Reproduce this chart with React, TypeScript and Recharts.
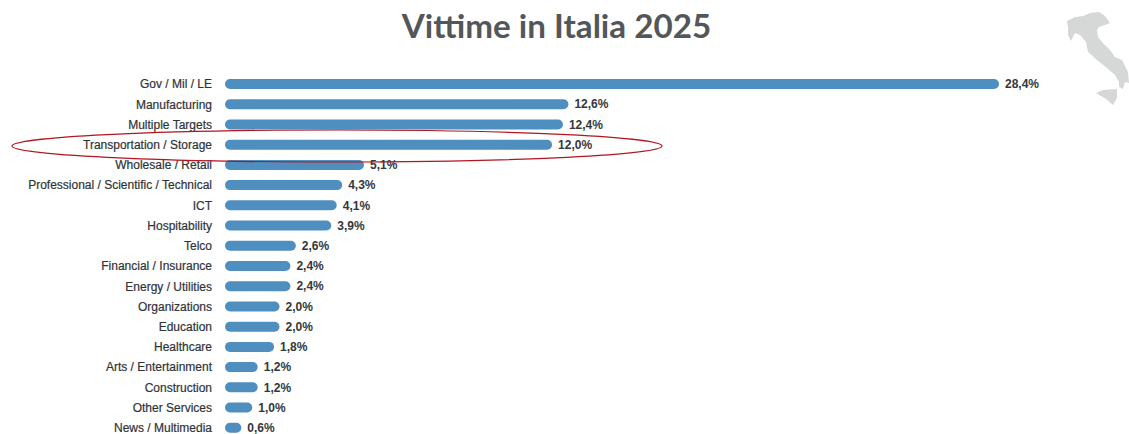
import React from "react";
import { BarChart, Bar, XAxis, YAxis, LabelList } from "recharts";

const sectors = [
  "Gov / Mil / LE",
  "Manufacturing",
  "Multiple Targets",
  "Transportation / Storage",
  "Wholesale / Retail",
  "Professional / Scientific / Technical",
  "ICT",
  "Hospitability",
  "Telco",
  "Financial / Insurance",
  "Energy / Utilities",
  "Organizations",
  "Education",
  "Healthcare",
  "Arts / Entertainment",
  "Construction",
  "Other Services",
  "News / Multimedia",
];
const shares = [28.4, 12.6, 12.4, 12.0, 5.1, 4.3, 4.1, 3.9, 2.6, 2.4, 2.4, 2.0, 2.0, 1.8, 1.2, 1.2, 1.0, 0.6];
const rows = sectors.map((sector, i) => ({ sector, share: shares[i] }));

const TITLE = "Vittime in Italia 2025";
const LABEL_FONT = "'Liberation Sans', Arial, sans-serif";
const percent = (v: number) => v.toFixed(1).replace(".", ",") + "%";

// Simplified outline of the peninsula and Sicily
const ITALY_MAINLAND =
  "M1067,21 L1075,17 L1083,16 L1090,13 L1099,12 L1105,16 L1110,23 L1105,25 L1099,27 L1097,30 L1098,37 L1103,43 L1110,50 L1115,57 L1122,60 L1128,72 L1129,83 L1125,82 L1123,89 L1119,87 L1119,82 L1115,75 L1107,68 L1097,60 L1088,52 L1086,42 L1080,35 L1075,33 L1071,41 L1068,35 L1068,28 Z";
const ITALY_SICILY = "M1096,93 L1103,90 L1117,89 L1117,98 L1113,105 L1106,99 Z";

// Single-line category label, right-aligned against the bars
function SectorTick({ x, y, payload }: any) {
  return (
    <text
      x={x}
      y={y}
      dy="0.35em"
      textAnchor="end"
      fontFamily={LABEL_FONT}
      fontSize={12}
      fill="#2f3338"
      stroke="#2f3338"
      strokeWidth={0.2}
    >
      {payload.value}
    </text>
  );
}

export default function App() {
  return (
    <div style={{ position: "absolute", left: 0, top: 0, width: 1129, height: 434, overflow: "hidden", background: "#fff" }}>
      <BarChart
        width={1129}
        height={434}
        data={rows}
        layout="vertical"
        margin={{ top: 74, right: 100, bottom: -4, left: 0 }}
      >
        <XAxis type="number" hide domain={[0, 29.5]} />
        <YAxis
          type="category"
          dataKey="sector"
          width={225}
          interval={0}
          axisLine={false}
          tickLine={false}
          tickSize={0}
          tickMargin={13}
          tick={SectorTick}
        />
        <Bar dataKey="share" fill="#4f8fbf" barSize={10} radius={5} isAnimationActive={false}>
          <LabelList
            dataKey="share"
            position="right"
            offset={6}
            formatter={percent}
            style={{ fontFamily: LABEL_FONT, fontSize: 12, fontWeight: 700, fill: "#33373b" }}
          />
        </Bar>
      </BarChart>
      <svg width={1129} height={434} style={{ position: "absolute", left: 0, top: 0, pointerEvents: "none" }}>
        <text x={556.5} y={38} textAnchor="middle" fontFamily="Lato, sans-serif" fontWeight={700} fontSize={33.2} fill="#54575a">
          {TITLE}
        </text>
        <path d={ITALY_MAINLAND} fill="#d6d8d8" />
        <path d={ITALY_SICILY} fill="#d6d8d8" />
        <ellipse cx={337} cy={146} rx={325} ry={16} fill="none" stroke="#b3141f" strokeWidth={1.2} />
      </svg>
    </div>
  );
}
